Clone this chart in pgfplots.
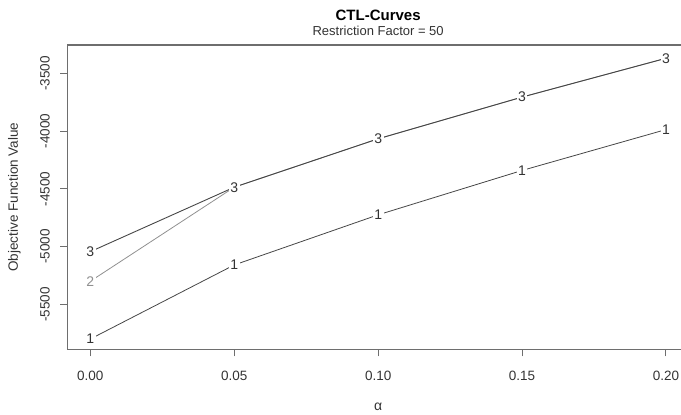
\documentclass[border=0pt]{standalone}
\usepackage{pgfplots}
\pgfplotsset{compat=1.18}
\usepackage{fontspec}
\setmainfont{Liberation Sans}
\definecolor{boxgray}{HTML}{6E6E6E}
\definecolor{linedark}{HTML}{464646}
\definecolor{linelight}{HTML}{909090}
\definecolor{textdark}{HTML}{333333}

\begin{document}
\begin{tikzpicture}
\begin{axis}[
    name=ax,
    scale only axis,
    width=621.7pt, height=304.3pt,
    xmin=-0.008, xmax=0.208,
    ymin=-5888, ymax=-3254,
    xtick={0,0.05,0.1,0.15,0.2},
    xticklabels={0.00,0.05,0.10,0.15,0.20},
    ytick={-5500,-5000,-4500,-4000,-3500},
    yticklabels={-5500,-5000,-4500,-4000,-3500},
    tick align=outside, tick pos=left,
    major tick length=7pt,
    axis line style={boxgray, line width=1.3pt},
    tick style={boxgray, line width=1pt},
    tick label style={font=\fontsize{13.5}{16}\selectfont, text=textdark},
    xticklabel style={anchor=north, yshift=-11pt},
    yticklabel style={rotate=90, anchor=south, yshift=7pt},
    xlabel={α},
    ylabel={Objective Function Value},
    xlabel style={at={(axis description cs:0.5,0)}, anchor=center, yshift=-58pt,
      font=\fontsize{14}{16}\selectfont, text=textdark},
    ylabel style={at={(axis description cs:0,0.5)}, anchor=center, rotate=0, yshift=53pt,
      font=\fontsize{13.5}{16}\selectfont, text=textdark},
    clip=false,
  ]

  % CTL curves, labelled with the number of groups
  \addplot[linelight, line width=0.8pt, mark=text, text mark={2}, text mark as node=true,
    text mark style={font=\fontsize{14}{16}\selectfont, text=linelight, fill=white, inner sep=1.5pt}]
    coordinates {(0,-5299) (0.05,-4485) (0.10,-4066) (0.15,-3705) (0.20,-3369)};

  \addplot[linedark, line width=0.8pt, mark=text, text mark={1}, text mark as node=true,
    text mark style={font=\fontsize{14}{16}\selectfont, text=textdark, fill=white, inner sep=1.5pt}]
    coordinates {(0,-5799) (0.05,-5158) (0.10,-4724) (0.15,-4340) (0.20,-3986)};

  \addplot[linedark, line width=0.9pt, mark=text, text mark={3}, text mark as node=true,
    text mark style={font=\fontsize{14}{16}\selectfont, text=textdark, fill=white, inner sep=1.5pt}]
    coordinates {(0,-5043) (0.05,-4485) (0.10,-4066) (0.15,-3705) (0.20,-3369)};

  \node[font=\bfseries\fontsize{15}{18}\selectfont, text=black] at (rel axis cs:0.5,1) [yshift=30pt] {CTL-Curves};
  \node[font=\fontsize{13}{16}\selectfont, text=textdark] at (rel axis cs:0.5,1) [yshift=14pt] {Restriction Factor = 50};
\end{axis}
\pgfresetboundingbox
\useasboundingbox ([shift={(-67.3pt,-65.7pt)}]ax.south west) rectangle ([shift={(613.7pt,349.3pt)}]ax.south west);
\end{tikzpicture}
\end{document}
